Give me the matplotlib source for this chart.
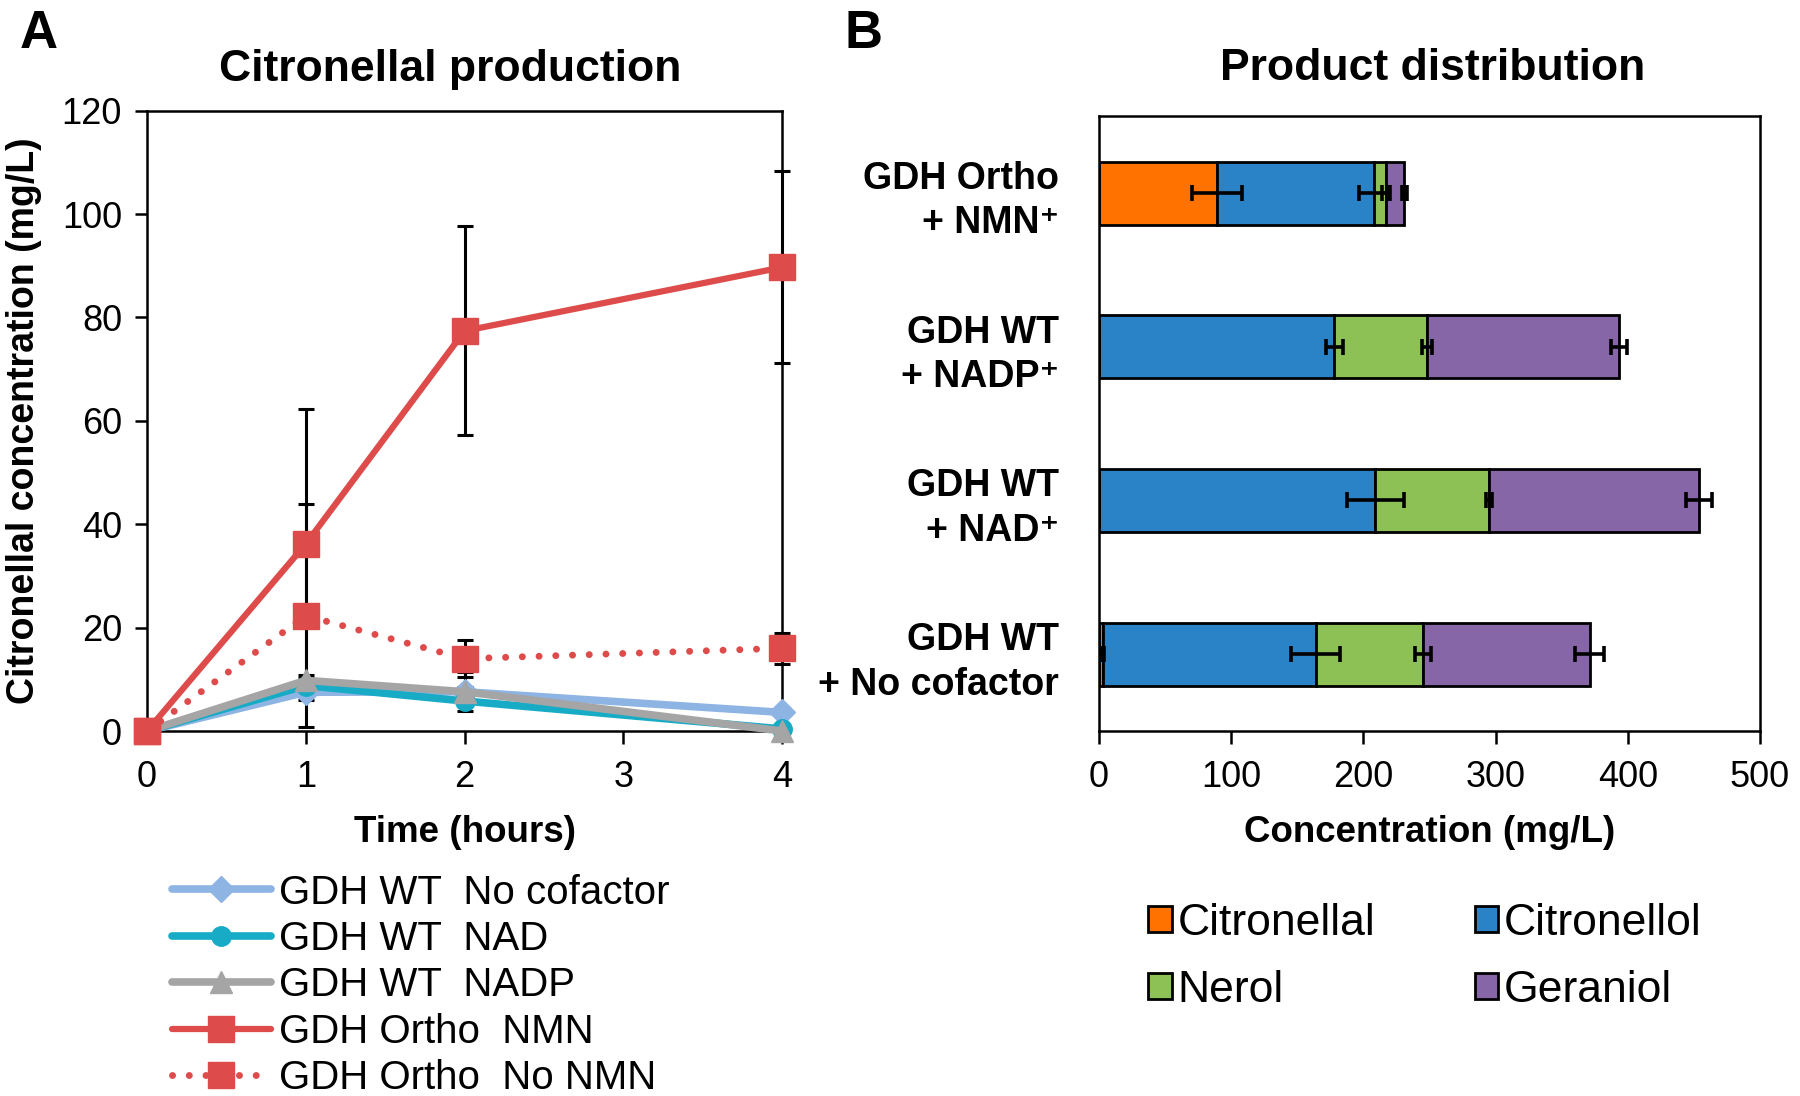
"""
Citronellal production time course (A) and product distribution (B).
"""

import matplotlib
matplotlib.use("Agg")
import matplotlib.pyplot as plt
import numpy as np

plt.rcParams["font.family"] = ["Liberation Sans", "DejaVu Sans"]

## DATA ##
# --------------------------------------------------------------------------- #
time_h = [0, 1, 2, 4]

wt_no_cofactor = [0, 7.5, 7.6, 3.6]
wt_nad = [0, 8.8, 5.8, 0.4]
wt_nadp = [0, 9.8, 7.6, 0]
ortho_nmn = [0, 36.2, 77.4, 89.7]
ortho_no_nmn = [0, 22.3, 14.0, 16.0]

wt_no_cofactor_err = [0, 1.5, 3.8, 0.5]
wt_nad_err = [0, 1.0, 1.0, 0.3]
wt_nadp_err = [0, 1.0, 1.0, 0]
ortho_nmn_err = [0, 26.0, 20.2, 18.6]
ortho_no_nmn_err = [0, 21.6, 3.6, 3.0]

line_labels = [
    "GDH WT  No cofactor",
    "GDH WT  NAD",
    "GDH WT  NADP",
    "GDH Ortho  NMN",
    "GDH Ortho  No NMN",
]

conditions = [
    "GDH Ortho\n+ NMN\u207a",
    "GDH WT\n+ NADP\u207a",
    "GDH WT\n+ NAD\u207a",
    "GDH WT\n+ No cofactor",
]
citronellal = [89, 0, 0, 3]
citronellol = [119, 178, 209, 161]
nerol = [9, 70, 86, 81]
geraniol = [14, 145, 159, 126]

citronellal_err = [19, 0, 0, 0.5]
citronellol_err = [11, 6.5, 21.5, 18.5]
nerol_err = [3, 3.5, 2, 6]
geraniol_err = [2, 6, 10, 11]

product_names = ["Citronellal", "Citronellol", "Nerol", "Geraniol"]
# --------------------------------------------------------------------------- #

C_LBLUE = "#8EB4E3"
C_TEAL = "#17ABC6"
C_GRAY = "#A5A5A5"
C_RED = "#DE4B4B"
BAR_COLORS = ["#FF7200", "#2A83C6", "#8DC055", "#8766A8"]

fig = plt.figure(figsize=(18, 10.96), dpi=100)

# ---------------- panel A ----------------
axA = fig.add_axes([0.0817, 0.333, 0.3528, 0.566])

series = [
    (wt_no_cofactor, wt_no_cofactor_err, C_LBLUE, "D", 13, "-", 5.5),
    (wt_nad, wt_nad_err, C_TEAL, "o", 14, "-", 5.5),
    (wt_nadp, wt_nadp_err, C_GRAY, "^", 16, "-", 5.5),
    (ortho_nmn, ortho_nmn_err, C_RED, "s", 19, "-", 4.5),
    (ortho_no_nmn, ortho_no_nmn_err, C_RED, "s", 19, ":", 5.0),
]

for vals, errs, *_ in series:
    axA.errorbar(time_h, vals, yerr=errs, fmt="none", ecolor="black",
                 elinewidth=2.2, capsize=6, capthick=2.2, zorder=2, clip_on=False)

handles = []
zorders = [4, 4, 5, 7, 6]
for (vals, errs, color, marker, ms, ls, lw), label, z in zip(series, line_labels, zorders):
    if ls == ":":
        h, = axA.plot(time_h, vals, color=color, lw=lw, linestyle=(0, (0.01, 2.4)),
                      dash_capstyle="round", marker=marker, ms=ms, label=label,
                      zorder=z, clip_on=False)
    else:
        h, = axA.plot(time_h, vals, color=color, lw=lw, solid_capstyle="round",
                      marker=marker, ms=ms, label=label, zorder=z, clip_on=False)
    handles.append(h)

axA.set_xlim(0, 4)
axA.set_ylim(0, 120)
axA.set_xticks([0, 1, 2, 3, 4])
axA.set_yticks(np.arange(0, 121, 20))
axA.tick_params(axis="both", direction="out", length=9, width=1.8, labelsize=26)
axA.tick_params(axis="x", pad=12)
axA.tick_params(axis="y", pad=9)
for sp in axA.spines.values():
    sp.set_linewidth(1.8)
axA.set_xlabel("Time (hours)", fontsize=26.5, fontweight="bold", labelpad=14)
axA.set_ylabel("Citronellal concentration (mg/L)", fontsize=27, fontweight="bold", labelpad=14)

fig.legend(handles=handles, loc="upper left", bbox_to_anchor=(0.0956, 0.203),
           frameon=False, fontsize=29, handlelength=2.45, handletextpad=0.2,
           labelspacing=0.21, borderpad=0, borderaxespad=0, numpoints=1)

# ---------------- panel B ----------------
axB = fig.add_axes([0.6106, 0.333, 0.3672, 0.561])
ypos = np.arange(len(conditions))
left = np.zeros(len(conditions))
segments = [citronellal, citronellol, nerol, geraniol]
errors = [citronellal_err, citronellol_err, nerol_err, geraniol_err]
bar_handles = []
for vals, errs, color, name in zip(segments, errors, BAR_COLORS, product_names):
    vals = np.array(vals, dtype=float)
    b = axB.barh(ypos, vals, left=left, height=0.41, color=color,
                 edgecolor="black", linewidth=2, label=name, zorder=2)
    bar_handles.append(b)
    left = left + vals
    axB.errorbar(left, ypos, xerr=errs, fmt="none", ecolor="black",
                 elinewidth=2.6, capsize=6, capthick=2.6, zorder=3)

axB.set_xlim(0, 500)
axB.set_ylim(3.5, -0.5)
axB.set_xticks(np.arange(0, 501, 100))
axB.set_yticks(ypos)
axB.set_yticklabels(conditions, fontsize=27, fontweight="bold", ha="right",
                    multialignment="right", linespacing=1.3)
axB.tick_params(axis="y", length=0, pad=29)
axB.tick_params(axis="x", direction="out", length=9, width=1.8, labelsize=26, pad=12)
for sp in axB.spines.values():
    sp.set_linewidth(1.8)
axB.set_xlabel("Concentration (mg/L)", fontsize=26.5, fontweight="bold", labelpad=14)

# legend is filled column-wise, so order entries to read row-wise
order = [0, 2, 1, 3]
fig.legend(handles=[bar_handles[i] for i in order], loc="upper left",
           bbox_to_anchor=(0.638, 0.176), ncol=2, frameon=False, fontsize=32,
           handlelength=0.52, handleheight=0.52, handletextpad=0.13,
           columnspacing=2.25, labelspacing=0.58, borderpad=0, borderaxespad=0)

# titles and panel letters
fig.text(450 / 1800, 1 - 69 / 1096, "Citronellal production", fontsize=32,
         fontweight="bold", ha="center", va="center")
fig.text(1433 / 1800, 1 - 69 / 1096, "Product distribution", fontsize=32,
         fontweight="bold", ha="center", va="center")
fig.text(0.011, 0.992, "A", fontsize=38, fontweight="bold", va="top")
fig.text(0.469, 0.992, "B", fontsize=38, fontweight="bold", va="top")

fig.savefig("out.png", dpi=100)
